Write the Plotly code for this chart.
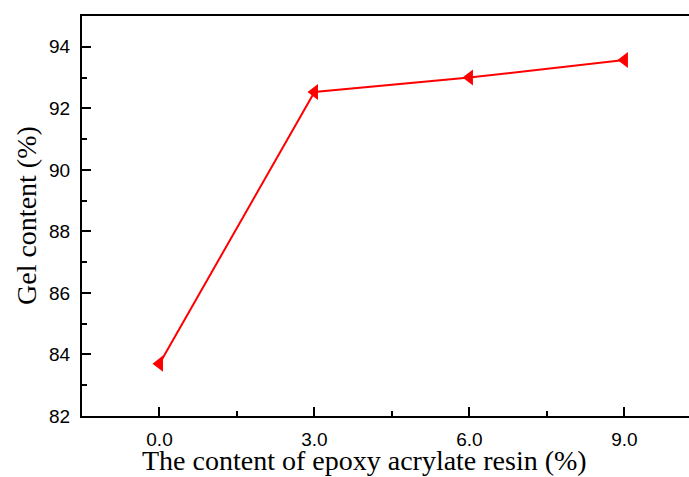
import plotly.graph_objects as go

# Gel content versus epoxy acrylate resin loading
resin_content = [0.0, 3.0, 6.0, 9.0]
gel_content = [83.7, 92.53, 93.0, 93.57]
x_tick_vals = [0.0, 3.0, 6.0, 9.0]
x_tick_text = ["0.0", "3.0", "6.0", "9.0"]
y_tick_vals = [82, 84, 86, 88, 90, 92, 94]

fig = go.Figure()
fig.add_trace(go.Scatter(
    x=resin_content, y=gel_content, mode="lines+markers",
    line=dict(color="#ff0000", width=2),
    marker=dict(symbol="triangle-left", size=14, color="#ff0000"),
    showlegend=False,
))

tick_font = dict(family="Liberation Sans, Arial, sans-serif", size=19, color="black")
title_font = dict(family="Liberation Serif, Times New Roman, serif", size=28, color="black")

fig.update_layout(
    width=689, height=477,
    margin=dict(l=82, r=0, t=16, b=61),
    paper_bgcolor="white", plot_bgcolor="white",
    xaxis=dict(
        range=[-1.5, 10.25], tickvals=x_tick_vals, ticktext=x_tick_text,
        ticks="inside", ticklen=9, tickwidth=2, tickcolor="black",
        minor=dict(ticks="inside", ticklen=5, tickwidth=2, tickcolor="black", dtick=1.5, tick0=0),
        showline=True, linewidth=2, linecolor="black", mirror=True,
        showgrid=False, zeroline=False, tickfont=tick_font, ticklabelstandoff=5,
    ),
    yaxis=dict(
        range=[82, 95], tickvals=y_tick_vals,
        ticks="inside", ticklen=9, tickwidth=2, tickcolor="black",
        minor=dict(ticks="inside", ticklen=5, tickwidth=2, tickcolor="black", dtick=1, tick0=82),
        showline=True, linewidth=2, linecolor="black", mirror=False,
        showgrid=False, zeroline=False, tickfont=tick_font, ticklabelstandoff=6,
    ),
    annotations=[
        dict(text="The content of epoxy acrylate resin (%)", xref="paper", yref="paper",
             x=(364 - 82) / 607, y=-(460 - 416) / 400, xanchor="center", yanchor="middle",
             showarrow=False, font=title_font),
        dict(text="Gel content (%)", xref="paper", yref="paper",
             x=-(82 - 26) / 607, y=0.5, xanchor="center", yanchor="middle",
             textangle=-90, showarrow=False, font=title_font),
    ],
)

fig.write_html("out.html")
